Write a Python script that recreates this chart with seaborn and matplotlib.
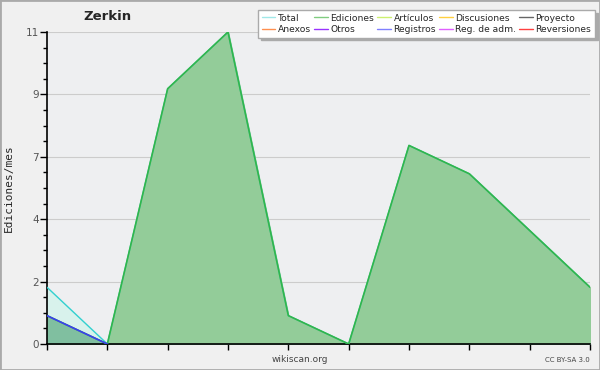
import matplotlib
matplotlib.use("Agg")
import matplotlib.pyplot as plt
from matplotlib.lines import Line2D
from matplotlib.patches import Rectangle
import seaborn as sns
import pandas as pd

# monthly values
months = list(range(10))
total = [2, 0, 9, 11, 1, 0, 7, 6, 4, 2]
ediciones = [1, 0, 9, 11, 1, 0, 7, 6, 4, 2]
registros = [1, 0, 0, 0, 0, 0, 0, 0, 0, 0]

ytick_vals = [0, 2.2, 4.4, 6.6, 8.8, 11]
ytick_labels = ["0", "2", "4", "7", "9", "11"]

legend_names = ["Total", "Ediciones", "Artículos", "Discusiones", "Proyecto",
                "Anexos", "Otros", "Registros", "Reg. de adm.", "Reversiones"]
legend_colors = ["#a0e8e8", "#80cc80", "#ccf070", "#ffd040", "#666666",
                 "#ff9050", "#9933ff", "#8080ff", "#e060ff", "#ff4040"]

df = pd.DataFrame({"mes": months, "Total": total,
                   "Ediciones": ediciones, "Registros": registros})

sns.set_theme(style="white")
plt.rcParams["font.family"] = ["DejaVu Sans"]

fig = plt.figure(figsize=(6, 3.7), dpi=100, facecolor="#f0f0f0")
ax = fig.add_axes([47 / 600, 1 - 344 / 370, 543 / 600, 312 / 370])
ax.set_facecolor("#eeeff1")

# fills under the areas
ax.fill_between(df["mes"], df["Total"], color="#d8f2ec", zorder=1)
ax.fill_between(df["mes"], df["Ediciones"], color="#93cc99", zorder=2)
ax.fill_between(df["mes"], df["Registros"], color="#80bfa0", zorder=2.5)

sns.lineplot(data=df, x="mes", y="Total", ax=ax, color="#33d0d0", lw=1, zorder=3)
sns.lineplot(data=df, x="mes", y="Ediciones", ax=ax, color="#33b54a", lw=1.2, zorder=4)
sns.lineplot(data=df.iloc[:2], x="mes", y="Registros", ax=ax, color="#3c3cf0", lw=1.2, zorder=5)

ax.set_xlim(0, 9)
ax.set_ylim(0, 11)
ax.set_xticks(months)
ax.set_xticklabels([])
ax.set_yticks(ytick_vals)
ax.set_yticklabels(ytick_labels, color="#555555", fontsize=7.5)
ax.set_yticks([v * 0.55 for v in range(21)], minor=True)
ax.tick_params(left=True, bottom=True, which="both")
ax.tick_params(axis="y", which="major", direction="out", length=5, width=1, color="black", pad=1)
ax.tick_params(axis="y", which="minor", direction="out", length=3, width=1, color="black")
ax.tick_params(axis="x", which="major", direction="out", length=4, width=1, color="black")
ax.grid(axis="y", which="major", color="#cccccc", lw=0.8, zorder=0)
ax.set_axisbelow(True)

for side in ["top", "right"]:
    ax.spines[side].set_visible(False)
for side in ["left", "bottom"]:
    ax.spines[side].set_color("black")
    ax.spines[side].set_linewidth(1.2)

ax.set_xlabel("")
ax.set_ylabel("Ediciones/mes", family="DejaVu Sans Mono", fontsize=8)
ax.yaxis.set_label_coords(-33 / 543, 0.5)

fig.text(107 / 600, 1 - 17 / 370, "Zerkin", ha="center", va="center",
         fontsize=9.5, fontweight="bold")
fig.text(300 / 600, 1 - 360 / 370, "wikiscan.org", ha="center", va="center",
         fontsize=6.5, color="#444444")
fig.text(590 / 600, 1 - 360 / 370, "CC BY-SA 3.0", ha="right", va="center",
         fontsize=5, color="#444444")

# legend fills column-wise, so interleave the two rows
order = [r * 5 + c for c in range(5) for r in range(2)]
handles = [Line2D([0], [0], color=legend_colors[i], lw=1) for i in order]
labels = [legend_names[i] for i in order]
leg = fig.legend(handles, labels, ncol=5, loc="upper right",
                 bbox_to_anchor=(595 / 600, 1 - 10 / 370), fontsize=6.6,
                 frameon=True, fancybox=False,
                 shadow={"color": "#aaaaaa", "alpha": 1, "ox": 2, "oy": -2},
                 handlelength=1.5, handletextpad=0.3, columnspacing=0.3,
                 labelspacing=0.25, borderpad=0.4, borderaxespad=0)
leg.get_frame().set_edgecolor("#aaaaaa")
leg.get_frame().set_facecolor("white")

fig.patches.append(Rectangle((0, 0), 1, 1, transform=fig.transFigure,
                             fill=False, edgecolor="#aaaaaa", lw=2))

fig.savefig("out.png", dpi=100, facecolor=fig.get_facecolor())
